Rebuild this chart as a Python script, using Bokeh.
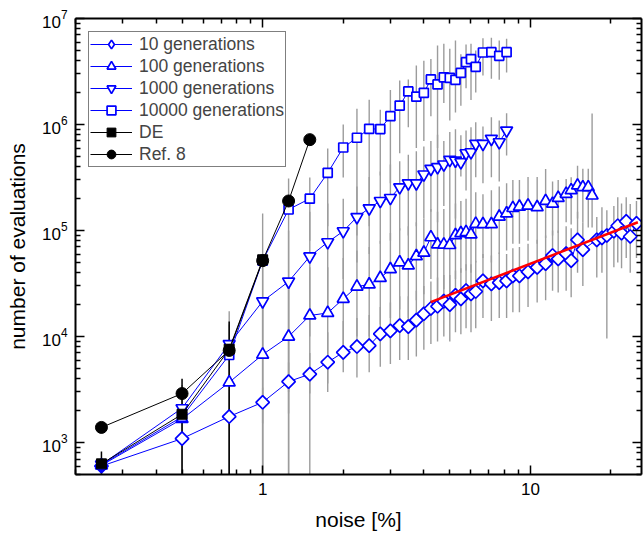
from bokeh.plotting import figure
from bokeh.models import (LogAxis, FixedTicker, BasicTickFormatter, LogTickFormatter,
                          CustomJSTickFormatter, Legend, LegendItem, Range1d)
from bokeh.embed import file_html
from bokeh.resources import INLINE

# ---------------- data ----------------
X_A = [0.25, 0.5, 0.75, 1.0, 1.25, 1.5, 1.75, 2.0, 2.25, 2.5, 2.75, 3.0, 3.25, 3.5,
       3.75, 4.0, 4.25, 4.5, 4.75, 5.0, 5.25, 5.5, 5.75, 6.0, 6.25, 6.65, 7.15, 7.65, 8.15]
X_B = [8.6, 9.1, 9.8, 10.6, 11.4, 12.1, 12.7, 13.6, 14.2, 15.0, 15.7, 16.45, 17.0]
X_C = [8.6, 9.1, 9.8, 10.6, 11.4, 12.1, 12.7, 13.6, 14.2, 15.0, 15.7, 17.7, 18.5,
       19.3, 20.5, 21.2, 21.9, 22.8, 23.6, 24.9]

G10_X = X_A + X_C
G10_Y = [600, 1090, 1760, 2400, 3760, 4420, 5730, 7100, 8050, 8220, 10600, 11300, 12700,
         12400, 14300, 16400, 18400, 19300, 21600, 20000, 24500, 22700, 27100, 25300, 26600,
         33500, 31400, 32200, 33500, 37300, 37300, 40700, 45000, 48800, 58200, 54000, 60500,
         52000, 81800, 66000, 81700, 85300, 89800, 98500, 111000, 94300, 122000, 87900, 117000]
G10_HI = [660, 1500, 3000, 3300, 5700, 7000, 11000, 14000, 15000, 16000, 19000, 21000, 24000,
          24000, 27000, 30000, 33000, 36000, 38000, 38000, 42000, 44000, 48000, 48000, 52000,
          60000, 58000, 62000, 60000, 68000, 70000, 75000, 82000, 90000, 100000, 100000, 110000,
          105000, 150000, 120000, 134000, 166000, 155000, 170000, 206000, 180000, 206000, 178000, 190000]
G10_LO = [540, 100, 100, 1510, 1880, 2900, 3600, 4600, 4100, 4600, 5200, 5500, 6000,
          6000, 6500, 7500, 8500, 9000, 10000, 9000, 11000, 10500, 12000, 11000, 12000,
          15000, 14000, 15000, 15000, 17000, 17000, 19000, 21000, 22000, 27000, 26000, 27000,
          23500, 40000, 30000, 36000, 40000, 9600, 45000, 50000, 44000, 55000, 40000, 55000]

G100_X = X_A + X_B
G100_Y = [610, 1670, 3700, 6760, 10000, 15800, 16700, 22700, 29600, 31000, 35700, 43200, 50100,
          46900, 57300, 61800, 86400, 74000, 73700, 73000, 90500, 94400, 96700, 92000, 115600,
          114800, 114800, 135000, 145000, 163000, 168000, 172000, 166000, 190000, 179000, 203000,
          222000, 240000, 266000, 256000, 256000, 214000]
G100_HI = [700, 2600, 8000, 20000, 30000, 45000, 45000, 55000, 65000, 70000, 80000, 95000, 105000,
           110000, 120000, 130000, 160000, 150000, 160000, 160000, 180000, 190000, 200000, 190000,
           230000, 220000, 240000, 260000, 280000, 300000, 300000, 320000, 320000, 380000, 290000,
           300000, 307000, 318000, 409000, 382000, 382000, 1270000]
G100_LO = [530, 1000, 1500, 100, 100, 100, 3000, 6000, 10000, 10000, 13000, 15000, 18000,
           15000, 22000, 25000, 35000, 25000, 28000, 25000, 35000, 40000, 42000, 40000, 50000,
           55000, 50000, 60000, 65000, 75000, 75000, 80000, 75000, 85000, 90000, 95000, 120000,
           114000, 130000, 120000, 107000, 107000]

G1000_X = X_A
G1000_Y = [620, 2110, 8500, 21500, 33000, 57000, 77600, 98500, 134000, 162000, 190000, 203000,
           256000, 279000, 279000, 338000, 382000, 396000, 420000, 464000, 457000, 441000,
           536000, 548000, 657000, 657000, 733000, 681000, 878000]
G1000_HI = [680, 3000, 13000, 60000, 100000, 150000, 180000, 200000, 260000, 320000, 360000, 420000,
            450000, 520000, 560000, 620000, 700000, 800000, 700000, 850000, 900000, 790000,
            880000, 943000, 1050000, 960000, 1170000, 1090000, 1280000]
G1000_LO = [560, 1300, 100, 100, 3000, 10000, 20000, 35000, 50000, 60000, 75000, 80000,
            100000, 90000, 110000, 130000, 150000, 120000, 170000, 160000, 130000, 323000,
            239000, 190000, 318000, 280000, 318000, 290000, 510000]

G10000_X = X_A
G10000_Y = [620, 1750, 6700, 52000, 158000, 200000, 350000, 607000, 750000, 910000, 905000,
            1200000, 1510000, 2050000, 1830000, 1990000, 2660000, 2390000, 2790000, 2760000,
            2640000, 3070000, 3870000, 4130000, 3500000, 4780000, 4810000, 4450000, 4810000]
G10000_HI = [700, 3500, 17300, 145000, 310000, 316000, 594000, 1000000, 1410000, 1710000, 1380000,
             2120000, 2600000, 2660000, 3600000, 4000000, 4160000, 5560000, 5770000, 5180000,
             6200000, 4600000, 5700000, 5770000, 4980000, 6520000, 6570000, 6200000, 6440000]
G10000_LO = [540, 100, 100, 100, 100, 80000, 110000, 316000, 90000, 110000, 330000,
             280000, 536000, 943000, 600000, 700000, 1200000, 600000, 1600000, 1090000,
             1300000, 1500000, 2200000, 1700000, 2000000, 2900000, 2700000, 2640000, 3100000]

DE_X = [0.25, 0.5, 0.75, 1.0]
DE_Y = [630, 1850, 7600, 53000]
DE_HI = [822, 3990, 13900, 58000]
DE_LO = [100, 100, 100, 48000]

REF8_X = [0.25, 0.5, 0.75, 1.0, 1.25, 1.5]
REF8_Y = [1390, 2900, 7400, 52000, 190000, 720000]

FIT_X = [4.24, 25.2]
FIT_Y = [21100, 119700]

X_MAJOR = [1, 10]
X_MINOR = [0.2, 0.3, 0.4, 0.5, 0.6, 0.7, 0.8, 0.9, 2, 3, 4, 5, 6, 7, 8, 9, 20]
Y_MAJOR = [1e3, 1e4, 1e5, 1e6, 1e7]
Y_MINOR = [500, 600, 700, 800, 900,
           2e3, 3e3, 4e3, 5e3, 6e3, 7e3, 8e3, 9e3,
           2e4, 3e4, 4e4, 5e4, 6e4, 7e4, 8e4, 9e4,
           2e5, 3e5, 4e5, 5e5, 6e5, 7e5, 8e5, 9e5,
           2e6, 3e6, 4e6, 5e6, 6e6, 7e6, 8e6, 9e6]

# ---------------- styling ----------------
BLUE = "#0000ff"
GREY = "#9c9c9c"
FONT = "Liberation Sans"

p = figure(width=644, height=535, x_axis_type="log", y_axis_type="log",
           x_range=Range1d(0.2, 26), y_range=Range1d(500, 1e7),
           output_backend="svg", toolbar_location=None,
           min_border_left=75, min_border_right=3, min_border_top=18, min_border_bottom=61)
p.xgrid.visible = False
p.ygrid.visible = False
p.outline_line_color = None
p.background_fill_color = "white"


def style_axis(ax, ticker):
    ax.ticker = ticker
    ax.axis_line_color = "black"
    ax.axis_line_width = 2
    ax.major_tick_in = 9
    ax.major_tick_out = 0
    ax.minor_tick_in = 5
    ax.minor_tick_out = 0
    ax.major_tick_line_width = 1.5
    ax.minor_tick_line_width = 1.5
    ax.major_tick_line_color = "black"
    ax.minor_tick_line_color = "black"
    ax.major_label_text_font = FONT
    ax.major_label_text_font_size = "17px"
    ax.major_label_text_color = "black"
    ax.axis_label_text_font = FONT
    ax.axis_label_text_font_size = "21px"
    ax.axis_label_text_font_style = "normal"
    ax.axis_label_text_color = "black"


xt = FixedTicker(ticks=X_MAJOR, minor_ticks=X_MINOR)
yt = FixedTicker(ticks=Y_MAJOR, minor_ticks=Y_MINOR)

xa = p.xaxis[0]
style_axis(xa, xt)
xa.formatter = BasicTickFormatter()
xa.axis_label = "noise [%]"
xa.major_label_standoff = 8
xa.axis_label_standoff = 10

ya = p.yaxis[0]
style_axis(ya, yt)
ya.formatter = LogTickFormatter()
ya.axis_label = "number of evaluations"
ya.major_label_standoff = 8
ya.axis_label_standoff = 10

blank = CustomJSTickFormatter(code="return ''")
top = LogAxis()
style_axis(top, FixedTicker(ticks=X_MAJOR, minor_ticks=X_MINOR))
top.formatter = blank
top.major_label_standoff = 0
right = LogAxis()
style_axis(right, FixedTicker(ticks=Y_MAJOR, minor_ticks=Y_MINOR))
right.formatter = blank
right.major_label_standoff = 0
p.add_layout(top, "above")
p.add_layout(right, "right")

# error bars
for xs, lo, hi in [(G10_X, G10_LO, G10_HI), (G100_X, G100_LO, G100_HI),
                   (G1000_X, G1000_LO, G1000_HI), (G10000_X, G10000_LO, G10000_HI)]:
    p.segment(x0=xs, y0=lo, x1=xs, y1=hi, line_color=GREY, line_width=1.4)
p.segment(x0=DE_X, y0=DE_LO, x1=DE_X, y1=DE_HI, line_color="black", line_width=1.5)

items = []


def blue_series(xs, ys, marker, size, label, angle=0.0, legend_marker=None):
    lr = p.line(xs, ys, line_color=BLUE, line_width=1)
    lg = None
    if legend_marker is not None:
        # glyph used for the legend key (legend keys are never rotated); drawn first,
        # it sits completely inside the rotated markers drawn on top of it
        lg = p.scatter(xs, ys, marker=legend_marker, size=size - 1, line_color=BLUE,
                       fill_color="white", line_width=1.7)
    sr = p.scatter(xs, ys, marker=marker, size=size, angle=angle, line_color=BLUE,
                   fill_color="white", line_width=1.7)
    items.append(LegendItem(label=label, renderers=[lr, lg if lg is not None else sr]))


blue_series(G10_X, G10_Y, "square", 9.5, "10 generations", angle=0.7853981634,
            legend_marker="diamond")
blue_series(G100_X, G100_Y, "triangle", 12, "100 generations")
blue_series(G1000_X, G1000_Y, "inverted_triangle", 12, "1000 generations")
blue_series(G10000_X, G10000_Y, "square", 9, "10000 generations")

lr = p.line(DE_X, DE_Y, line_color="black", line_width=1)
sr = p.scatter(DE_X, DE_Y, marker="square", size=10, line_color="black", fill_color="black")
items.append(LegendItem(label="DE", renderers=[lr, sr]))

lr = p.line(REF8_X, REF8_Y, line_color="black", line_width=1)
sr = p.scatter(REF8_X, REF8_Y, marker="circle", size=12, line_color="black", fill_color="black")
items.append(LegendItem(label="Ref. 8", renderers=[lr, sr]))

p.line(FIT_X, FIT_Y, line_color="red", line_width=2.5)

legend = Legend(items=items, location="top_left", margin=13, padding=1, spacing=0,
                glyph_width=42, glyph_height=22, label_height=22, label_standoff=7,
                label_text_font=FONT, label_text_font_size="17.5px",
                border_line_color="black", border_line_width=1,
                background_fill_color="white", background_fill_alpha=1)
p.add_layout(legend)

open("out.html", "w").write(file_html(p, INLINE))
